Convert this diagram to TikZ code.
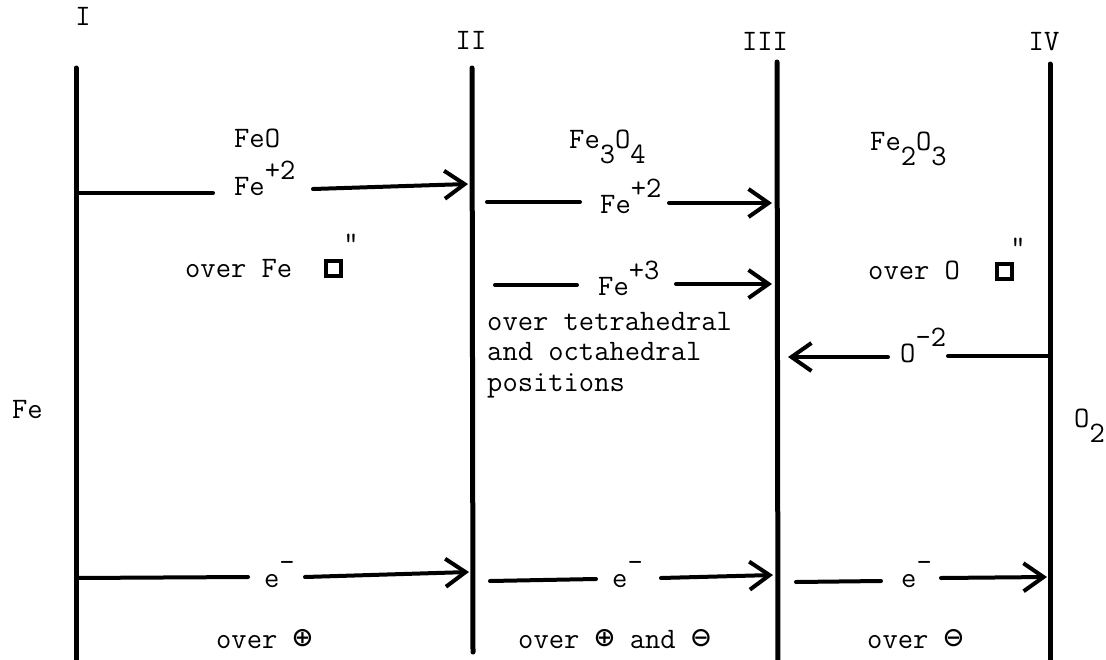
\documentclass[tikz,border=0pt]{standalone}
\usepackage{fontspec}
\newfontfamily\symf{DejaVu Sans Mono}
\usetikzlibrary{arrows.meta}
\newcommand{\up}[1]{\raisebox{16pt}{#1}}
\newcommand{\dn}[1]{\raisebox{-15pt}{#1}}
\newcommand{\oplussym}{{\symf\fontsize{33}{33}\selectfont ⊕}}
\newcommand{\ominussym}{{\symf\fontsize{33}{33}\selectfont ⊖}}
\begin{document}
\begin{tikzpicture}[x=1pt,y=-1pt,
  every node/.style={inner sep=0pt, font=\ttfamily\fontsize{29.7}{30.5}\selectfont},
  lbl/.style={anchor=base west},
  wall/.style={line width=5pt, line cap=round},
  seg/.style={line width=4pt, line cap=round},
  arr/.style={line width=4pt, line cap=round, -{Straight Barb[length=20pt,width=28pt,line width=4pt]}},
  vac/.style={draw, line width=4pt, minimum size=15pt}]
\useasboundingbox (0,0) rectangle (1106,659);

% walls
\coordinate (Itop) at (76,68);    \coordinate (Ibot) at (76,668);
\coordinate (IItop) at (472,68);  \coordinate (IIbot) at (473,652);
\coordinate (IIItop) at (777,62); \coordinate (IIIbot) at (778,668);
\coordinate (IVtop) at (1050,64); \coordinate (IVbot) at (1050,668);
\draw[wall] (Itop) -- (Ibot);
\draw[wall] (IItop) -- (IIbot);
\draw[wall] (IIItop) -- (IIIbot);
\draw[wall] (IVtop) -- (IVbot);

% wall labels
\node[anchor=base] (lI) at (83,25) {I};
\node[anchor=base] (lII) at (471,49) {II};
\node[anchor=base] (lIII) at (765,50) {III};
\node[anchor=base] (lIV) at (1044,50) {IV};

% phases
\node[lbl] (feo) at (234,147) {FeO};
\node[lbl] (fe3o4) at (569,148) {Fe\dn{3}O\dn{4}};
\node[lbl] (fe2o3) at (870,150) {Fe\dn{2}O\dn{3}};
\node[lbl] (fe) at (12,418) {Fe};
\node[lbl] (o2) at (1074,427) {O\dn{2}};

% ions
\node[lbl] (fe2a) at (234,195) {Fe\up{+2}};
\node[lbl] (fe2b) at (600,213) {Fe\up{+2}};
\node[lbl] (fe3) at (598,295) {Fe\up{+3}};
\node[lbl] (om2) at (900,362) {O\up{-2}};
\node[lbl] (e1) at (264,587) {e\up{-}};
\node[lbl] (e2) at (612,587) {e\up{-}};
\node[lbl] (e3) at (901,587) {e\up{-}};

% vacancies
\node[lbl] (ovfe) at (185,277) {over Fe};
\node[vac] (sq1) at (333,268) {};
\node[anchor=north] (dq1) at (351,234) {"};
\node[lbl] (ovo) at (868,279) {over O};
\node[vac] (sq2) at (1004,271) {};
\node[anchor=north] (dq2) at (1018,238) {"};

\node[anchor=north west, align=left] (tet) at (487,312)
  {over tetrahedral\\and octahedral\\positions};

% bottom labels
\node[lbl] (b1) at (216,648) {over \oplussym};
\node[lbl] (b2) at (518,648) {over \oplussym{} and \ominussym};
\node[lbl] (b3) at (867,648) {over \ominussym};

% connector end points
\coordinate (A1s) at (76,193);  \coordinate (A1e) at (213,193);
\coordinate (A1r) at (313,189); \coordinate (A1t) at (468,184);
\coordinate (B1s) at (487,202); \coordinate (B1e) at (580,202);
\coordinate (B1r) at (669,203); \coordinate (B1t) at (772,203);
\coordinate (C1s) at (495,285); \coordinate (C1e) at (577,285);
\coordinate (C1r) at (676,284); \coordinate (C1t) at (772,284);
\coordinate (D1s) at (1050,356); \coordinate (D1e) at (948,356);
\coordinate (D1r) at (888,357);  \coordinate (D1t) at (788,357);
\coordinate (E1s) at (76,578);  \coordinate (E1e) at (248,577);
\coordinate (E1r) at (305,577); \coordinate (E1t) at (469,572);
\coordinate (E2s) at (490,581); \coordinate (E2e) at (596,579);
\coordinate (E2r) at (661,578); \coordinate (E2t) at (773,575);
\coordinate (E3s) at (796,582); \coordinate (E3e) at (881,581);
\coordinate (E3r) at (941,578); \coordinate (E3t) at (1047,577);

\draw[seg] (A1s) -- (A1e);  \draw[arr] (A1r) -- (A1t);
\draw[seg] (B1s) -- (B1e);  \draw[arr] (B1r) -- (B1t);
\draw[seg] (C1s) -- (C1e);  \draw[arr] (C1r) -- (C1t);
\draw[seg] (D1s) -- (D1e);  \draw[arr] (D1r) -- (D1t);
\draw[seg] (E1s) -- (E1e);  \draw[arr] (E1r) -- (E1t);
\draw[seg] (E2s) -- (E2e);  \draw[arr] (E2r) -- (E2t);
\draw[seg] (E3s) -- (E3e);  \draw[arr] (E3r) -- (E3t);
\end{tikzpicture}
\end{document}
